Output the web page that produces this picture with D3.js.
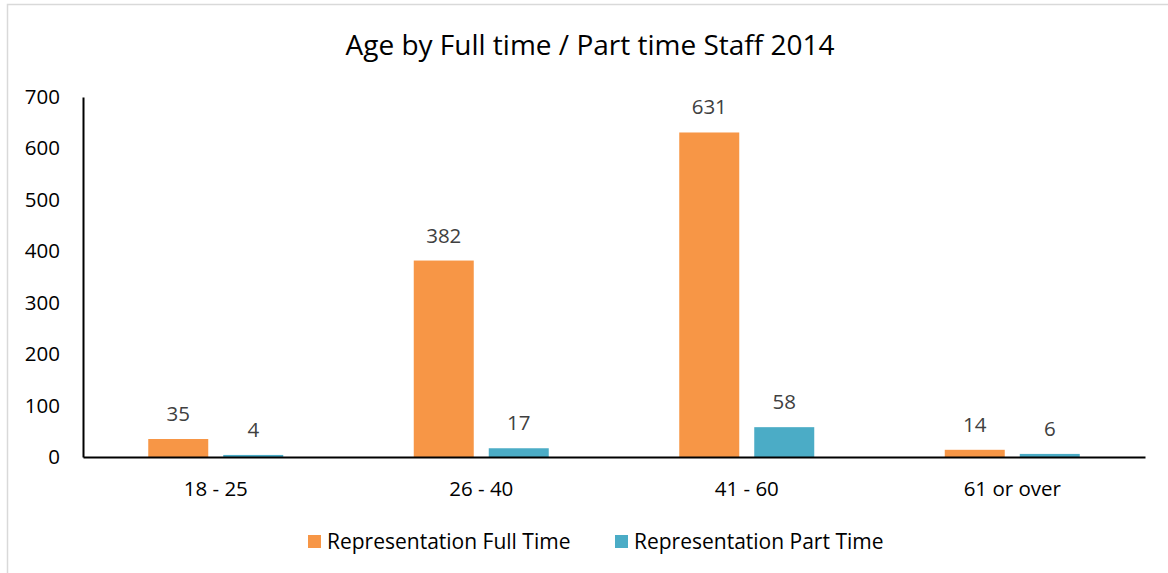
<!DOCTYPE html>
<html>
<head>
<meta charset="utf-8">
<script src="https://cdn.jsdelivr.net/npm/d3@7"></script>
<style>
body{margin:0;background:#fff;}
svg text{font-family:"Open Sans",Lato,sans-serif;}
</style>
</head>
<body>
<div id="chart"></div>
<script>
// values
var categories = ["18 - 25","26 - 40","41 - 60","61 or over"];
var seriesNames = ["Representation Full Time","Representation Part Time"];
var fullTime = [35,382,631,14];
var partTime = [4,17,58,6];
var yTicks = [0,100,200,300,400,500,600,700];
var colors = ["#F79646","#4BACC6"];

var width = 1168, height = 573;
var margin = {left:83, right:23, top:97, bottom:116};

var svg = d3.select("#chart").append("svg")
    .attr("width", width)
    .attr("height", height);

// chart frame
svg.append("rect")
    .attr("x", 7.5).attr("y", 4.5)
    .attr("width", width).attr("height", height)
    .style("fill","none")
    .style("stroke","#d9d9d9")
    .style("stroke-width",1.5);

var x = d3.scaleBand()
    .domain(categories)
    .range([margin.left, width-margin.right]);

// two bars of 60px with a 15px gap, centred in each band
var pairW = 135;
var xInner = d3.scaleBand()
    .domain([0,1])
    .range([(x.bandwidth()-pairW)/2, (x.bandwidth()+pairW)/2])
    .paddingInner(0.2);

var y = d3.scaleLinear()
    .domain([0,700])
    .range([height-margin.bottom, margin.top]);

svg.append("text")
    .attr("x", 590).attr("y", 55)
    .attr("text-anchor","middle")
    .style("font-size","28px")
    .style("fill","#000")
    .text("Age by Full time / Part time Staff 2014");

// y axis
var yAxis = svg.append("g")
    .attr("transform","translate(" + margin.left + ",0)")
    .call(d3.axisLeft(y).tickValues(yTicks).tickSize(0).tickPadding(23));
yAxis.select(".domain").style("stroke","#000").style("stroke-width",2);
yAxis.selectAll("text")
    .style("font-size","20.5px")
    .style("fill","#000");

var rows = categories.map(function(c,i){ return {cat:c, vals:[fullTime[i], partTime[i]]}; });

var groups = svg.selectAll("g.cat")
    .data(rows)
    .enter().append("g")
    .attr("class","cat")
    .attr("transform", function(d){ return "translate(" + x(d.cat) + ",0)"; });

groups.selectAll("rect")
    .data(function(d){ return d.vals; })
    .enter().append("rect")
    .attr("x", function(d,i){ return xInner(i); })
    .attr("y", function(d){ return y(d); })
    .attr("width", xInner.bandwidth())
    .attr("height", function(d){ return y(0) - y(d); })
    .style("fill", function(d,i){ return colors[i]; });

groups.selectAll("text.lbl")
    .data(function(d){ return d.vals; })
    .enter().append("text")
    .attr("class","lbl")
    .attr("x", function(d,i){ return xInner(i) + xInner.bandwidth()/2; })
    .attr("y", function(d){ return y(d) - 18; })
    .attr("text-anchor","middle")
    .style("font-size","20.5px")
    .style("fill","#404040")
    .text(function(d){ return d; });

// x axis
var xAxis = svg.append("g")
    .attr("transform","translate(0," + y(0) + ")")
    .call(d3.axisBottom(x).tickSize(0).tickPadding(24));
xAxis.select(".domain").style("stroke","#000").style("stroke-width",2);
xAxis.selectAll("text")
    .style("font-size","20.5px")
    .style("fill","#000");

// legend
var legendX = [308, 615];
var legend = svg.selectAll("g.leg")
    .data(seriesNames)
    .enter().append("g")
    .attr("class","leg")
    .attr("transform", function(d,i){ return "translate(" + legendX[i] + ",535)"; });
legend.append("rect")
    .attr("width",13).attr("height",13)
    .style("fill", function(d,i){ return colors[i]; });
legend.append("text")
    .attr("x",19).attr("y",13.5)
    .style("font-size","21px")
    .style("fill","#000")
    .text(function(d){ return d; });
</script>
</body>
</html>
